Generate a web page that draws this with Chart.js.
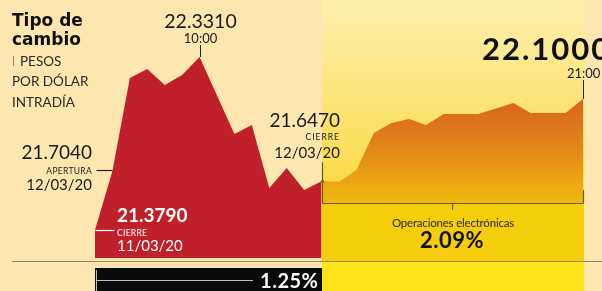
<!DOCTYPE html>
<html>
<head>
<meta charset="utf-8">
<script src="https://cdn.jsdelivr.net/npm/chart.js@4"></script>
<style>
  html, body { margin: 0; padding: 0; background: #fee6b1; }
  #wrap { width: 602px; height: 291px; }
</style>
</head>
<body>
<div id="wrap"><canvas id="fx"></canvas></div>
<script>
// Tipo de cambio intradía, hours of the day (decimal) and pesos per dollar
const sessionHours = [7, 7.5, 8, 8.5, 9, 9.5, 10, 11, 11.5, 12, 12.5, 13, 13.5];
const sessionValues = [21.379, 21.704, 22.215, 22.265, 22.177, 22.232, 22.331, 21.907, 21.957, 21.610, 21.720, 21.599, 21.647];
const electronicHours = [13.5, 14, 14.5, 15, 15.5, 16, 16.5, 17, 18, 19, 19.5, 20.5, 21];
const electronicValues = [21.647, 21.645, 21.709, 21.913, 21.968, 21.990, 21.957, 22.017, 22.017, 22.078, 22.023, 22.023, 22.100];

const prevClose = 21.379;   // cierre 11/03/20
const openValue = 21.704;   // apertura 12/03/20
const dayClose = 21.647;    // cierre 12/03/20
const peakValue = 22.331;   // 10:00
const lastValue = 22.100;   // 21:00

const NUM = 'Lato, "Open Sans", sans-serif';
const fmt = v => v.toFixed(4);
const pct = (a, b) => ((b / a - 1) * 100).toFixed(2) + '%';

const toPoints = (xs, ys) => xs.map((x, i) => ({ x: x, y: ys[i] }));

function text(ctx, str, x, y, font, color, align, spacing) {
    ctx.font = font;
    ctx.fillStyle = color;
    ctx.textAlign = align || 'left';
    ctx.textBaseline = 'alphabetic';
    ctx.letterSpacing = spacing || '0px';
    ctx.fillText(str, x, y);
    ctx.letterSpacing = '0px';
}

function line(ctx, x1, y1, x2, y2, color, w) {
    ctx.beginPath();
    ctx.strokeStyle = color;
    ctx.lineWidth = w || 1;
    ctx.moveTo(x1, y1);
    ctx.lineTo(x2, y2);
    ctx.stroke();
}

// background panels (cream page, yellow after-hours panel)
const backdrop = {
    id: 'backdrop',
    beforeDraw(chart) {
        const { ctx, width, height } = chart;
        const xs = chart.scales.x;
        const x0 = Math.round(xs.getPixelForValue(13.5));
        const x1 = Math.round(xs.getPixelForValue(21)) + 1;
        const floor = 203;
        ctx.save();
        ctx.fillStyle = '#fee6b1';
        ctx.fillRect(0, 0, width, height);

        const g = ctx.createLinearGradient(0, 0, 0, floor);
        g.addColorStop(0, '#ffefb0');
        g.addColorStop(1, '#f9d93e');
        ctx.fillStyle = g;
        ctx.fillRect(x0, 0, x1 - x0, floor);
        ctx.fillStyle = '#f5ce0b';
        ctx.fillRect(x0, floor, x1 - x0, 58);
        ctx.fillStyle = '#fde31c';
        ctx.fillRect(x0, 261, x1 - x0, height - 261);
        ctx.restore();
    }
};

// annotations, bracket and black summary bar
const labels = {
    id: 'labels',
    afterDatasetsDraw(chart) {
        const { ctx, width } = chart;
        const xs = chart.scales.x, ys = chart.scales.y;
        const px = v => Math.round(xs.getPixelForValue(v)) + 0.5;
        const py = v => ys.getPixelForValue(v);
        const xStart = px(7), xOpen = px(7.5), xPeak = px(10), xClose = px(13.5), xEnd = px(21);
        ctx.save();

        // base line
        line(ctx, 12, 261.5, width, 261.5, '#9a8656', 1);

        // black bar with session change
        ctx.fillStyle = '#0b0b0b';
        ctx.fillRect(xStart - 0.5, 268, xClose - xStart, 23);
        line(ctx, xStart + 1, 270, xStart + 1, 291, '#bdbdbd', 1);
        line(ctx, xStart + 1, 280.5, 253, 280.5, '#bdbdbd', 1);
        text(ctx, pct(prevClose, dayClose), xClose - 4, 288, 'bold 20px ' + NUM, '#ffffff', 'right', '0.5px');

        // bracket of electronic trading
        const bc = '#6e5b1c';
        line(ctx, xClose, 203.5, xEnd, 203.5, bc, 1.2);
        line(ctx, xClose, py(dayClose) - 19, xClose, 203.5, bc, 1.2);
        line(ctx, xEnd, 190, xEnd, 203.5, bc, 1.2);
        line(ctx, 452.5, 203.5, 452.5, 210, bc, 1.2);
        ctx.fillStyle = bc;
        ctx.beginPath(); ctx.arc(xClose, py(dayClose), 1.5, 0, Math.PI * 2); ctx.fill();
        text(ctx, 'Operaciones electrónicas', 453, 227, '11.5px ' + NUM, '#2a2a2a', 'center', '-0.2px');
        text(ctx, pct(dayClose, lastValue), 452, 248, 'bold 22px ' + NUM, '#111111', 'center', '0.5px');

        // peak
        line(ctx, xPeak, 45, xPeak, py(peakValue), '#222', 1);
        text(ctx, fmt(peakValue), xPeak, py(peakValue) - 29, '19.5px ' + NUM, '#1a1a1a', 'center');
        text(ctx, '10:00', xPeak, py(peakValue) - 14, '13px ' + NUM, '#1a1a1a', 'center');

        // opening
        const yo = Math.round(py(openValue)) - 0.5;
        line(ctx, xOpen - 16, yo, xOpen, yo, '#222', 1.2);
        text(ctx, fmt(openValue), 92, 159, '19px ' + NUM, '#1a1a1a', 'right');
        text(ctx, 'APERTURA', 92, 174, '8.5px ' + NUM, '#1a1a1a', 'right', '0.3px');
        text(ctx, '12/03/20', 92, 190, '15px ' + NUM, '#1a1a1a', 'right');

        // previous close
        const yp = Math.round(py(prevClose)) + 0.5;
        line(ctx, xStart, yp, xStart + 19, yp, '#ffffff', 1.2);
        text(ctx, fmt(prevClose), 117, 222, 'bold 19px ' + NUM, '#ffffff', 'left');
        text(ctx, 'CIERRE', 117, 236, '8.5px ' + NUM, '#ffffff', 'left', '0.3px');
        text(ctx, '11/03/20', 117, 251, '15px ' + NUM, '#ffffff', 'left');

        // session close
        text(ctx, fmt(dayClose), 340, 127, '19px ' + NUM, '#1a1a1a', 'right');
        text(ctx, 'CIERRE', 340, 140, '8.5px ' + NUM, '#1a1a1a', 'right', '1px');
        text(ctx, '12/03/20', 340, 158, '15px ' + NUM, '#1a1a1a', 'right');

        // last value
        line(ctx, xEnd, 80, xEnd, py(lastValue), '#222', 1);
        text(ctx, fmt(lastValue), 482, 60, 'bold 31px ' + NUM, '#111111', 'left', '2px');
        text(ctx, '21:00', 567, 78, '13px ' + NUM, '#1a1a1a', 'left');

        // title
        text(ctx, 'Tipo de', 12, 26, 'bold 17px "DejaVu Sans", sans-serif', '#111111', 'left');
        text(ctx, 'cambio', 12, 45, 'bold 17px "DejaVu Sans", sans-serif', '#111111', 'left');
        line(ctx, 13.5, 56, 13.5, 66, '#8a8a8a', 1);
        text(ctx, 'PESOS', 20, 66, '13.5px ' + NUM, '#2a2a2a', 'left');
        text(ctx, 'POR DÓLAR', 12, 86, '13.5px ' + NUM, '#2a2a2a', 'left');
        text(ctx, 'INTRADÍA', 12, 107, '13.5px ' + NUM, '#2a2a2a', 'left');

        ctx.restore();
    }
};

function orangeFill(context) {
    const area = context.chart.chartArea;
    if (!area) return '#e08a14';
    const g = context.chart.ctx.createLinearGradient(0, 95, 0, 203);
    g.addColorStop(0, '#d8611a');
    g.addColorStop(0.5, '#e3871a');
    g.addColorStop(1, '#f1ba0e');
    return g;
}

new Chart(document.getElementById('fx'), {
    type: 'line',
    data: {
        datasets: [
            {
                label: 'Sesión 12/03/20',
                data: toPoints(sessionHours, sessionValues),
                backgroundColor: '#c0202a',
                borderColor: '#c0202a',
                borderWidth: 0,
                pointRadius: 0,
                tension: 0,
                fill: 'start'
            },
            {
                label: 'Operaciones electrónicas',
                data: toPoints(electronicHours, electronicValues),
                backgroundColor: orangeFill,
                borderColor: 'rgba(0,0,0,0)',
                borderWidth: 0,
                pointRadius: 0,
                tension: 0,
                fill: { value: 21.5275 }
            }
        ]
    },
    options: {
        responsive: true,
        maintainAspectRatio: false,
        animation: false,
        layout: { padding: { left: 95, right: 19, top: 0, bottom: 33 } },
        plugins: {
            legend: { display: false },
            tooltip: { enabled: false }
        },
        scales: {
            x: { type: 'linear', min: 7, max: 21, display: false },
            y: { min: 21.2248, max: 22.6447, display: false }
        }
    },
    plugins: [backdrop, labels]
});
</script>
</body>
</html>
